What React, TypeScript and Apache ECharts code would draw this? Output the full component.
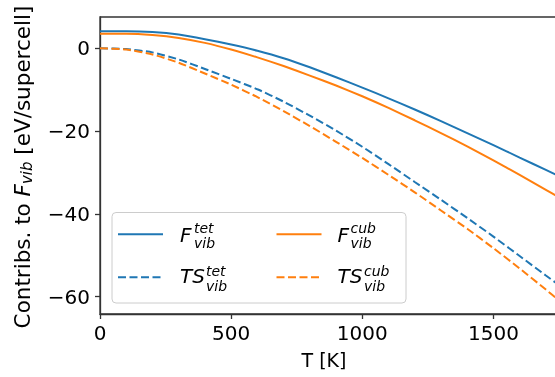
import React, { useEffect, useRef } from "react";
import * as echarts from "echarts";

// Temperature grid [K]
const temps = [0, 100, 200, 300, 400, 500, 600, 700, 800, 900, 1000, 1100, 1200, 1300, 1400, 1500, 1600, 1700, 1750];
// F_vib tetragonal (eV/supercell)
const fTet = [4.1, 4.1, 3.9, 3.3, 2.2, 0.9, -0.6, -2.4, -4.6, -7.0, -9.5, -12.1, -14.8, -17.6, -20.5, -23.4, -26.4, -29.4, -30.9];
// F_vib cubic
const fCub = [3.5, 3.5, 3.2, 2.5, 1.3, -0.3, -2.2, -4.3, -6.6, -9.0, -11.6, -14.4, -17.4, -20.5, -23.7, -27.1, -30.6, -34.2, -36.0];
// T*S_vib tetragonal
const tsTet = [0, -0.2, -1.0, -2.7, -5.0, -7.4, -9.9, -12.9, -16.3, -19.9, -23.8, -28.0, -32.3, -36.6, -41.0, -45.5, -50.2, -54.9, -57.2];
// T*S_vib cubic
const tsCub = [0, -0.3, -1.5, -3.5, -6.1, -8.8, -11.8, -15.2, -18.8, -22.6, -26.5, -30.6, -34.8, -39.2, -43.6, -48.3, -53.2, -58.3, -60.9];

const xTicks = [0, 500, 1000, 1500];
const yTicks = [-60, -40, -20, 0];

const BLUE = "#1f77b4";
const ORANGE = "#ff7f0e";
const FONT = "'DejaVu Sans', sans-serif";
const AXIS = "#333333";

const pairs = (ys: number[]) => temps.map((t, i) => [t, ys[i]]);
const fmt = (v: number) => (v < 0 ? "\u2212" + Math.abs(v) : String(v));

export default function App() {
  const ref = useRef<HTMLDivElement>(null);
  useEffect(() => {
    const chart = echarts.init(ref.current as HTMLDivElement, null, { renderer: "svg" });
    const axisLine = { show: true, onZero: false, lineStyle: { color: AXIS, width: 1.3 } };
    const tickStyle = { color: AXIS, width: 1.3 };
    const label = (vals: number[], margin: number) => ({
      customValues: vals,
      fontSize: 20,
      color: "#000",
      fontFamily: FONT,
      margin,
      formatter: fmt,
    });
    const mkLine = (data: number[], color: string, dashed: boolean, name: string, z: number) => ({
      type: "line",
      name,
      data: pairs(data),
      showSymbol: false,
      symbol: "none",
      smooth: 0.2,
      z,
      lineStyle: { color, width: 2, type: dashed ? [8, 3.5] : "solid" },
      itemStyle: { color },
    });
    const txt = (text: string, x: number, y: number, size: number) => ({
      type: "text",
      x,
      y,
      z: 100,
      style: {
        text,
        fontSize: size,
        fontFamily: FONT,
        fontStyle: "italic",
        fill: "#000",
        align: "left",
        verticalAlign: "middle",
      },
    });
    const legLine = (x1: number, x2: number, y: number, color: string, dashed: boolean) => ({
      type: "line",
      z: 100,
      shape: { x1, y1: y, x2, y2: y },
      style: { stroke: color, lineWidth: 2, lineDash: dashed ? [8, 3.5] : null },
    });
    chart.setOption({
      animation: false,
      grid: {
        left: 100,
        top: 17,
        right: 6,
        bottom: 63,
        show: true,
        borderColor: AXIS,
        borderWidth: 1.3,
        backgroundColor: "transparent",
      },
      xAxis: {
        type: "value",
        min: 0,
        max: 1750,
        axisLine,
        axisTick: { show: true, length: 5, customValues: xTicks, lineStyle: tickStyle },
        axisLabel: label(xTicks, 9),
        splitLine: { show: false },
      },
      yAxis: {
        type: "value",
        min: -64.2,
        max: 7.55,
        axisLine,
        axisTick: { show: true, length: 5, customValues: yTicks, lineStyle: tickStyle },
        axisLabel: label(yTicks, 10),
        splitLine: { show: false },
      },
      series: [
        mkLine(fTet, BLUE, false, "F_vib^tet", 2),
        mkLine(tsTet, BLUE, true, "TS_vib^tet", 3),
        mkLine(fCub, ORANGE, false, "F_vib^cub", 4),
        mkLine(tsCub, ORANGE, true, "TS_vib^cub", 5),
      ],
      graphic: [
        {
          type: "text",
          x: 22,
          y: 167,
          rotation: Math.PI / 2,
          style: {
            text: "{a|Contribs. to }{f|F}{s|vib}{a| [eV/supercell]}",
            align: "center",
            verticalAlign: "middle",
            fill: "#000",
            fontSize: 21.5,
            fontFamily: FONT,
            rich: {
              a: { fontSize: 21.5, fontFamily: FONT, fill: "#000" },
              f: { fontSize: 21.5, fontFamily: FONT, fontStyle: "italic", fill: "#000" },
              s: { fontSize: 15, fontFamily: FONT, fontStyle: "italic", fill: "#000", padding: [10, 0, 0, 0] },
            },
          },
        },
        {
          type: "text",
          x: 324,
          y: 360,
          style: {
            text: "T [K]",
            align: "center",
            verticalAlign: "middle",
            fill: "#000",
            fontSize: 19,
            fontFamily: FONT,
          },
        },
        {
          type: "rect",
          z: 99,
          shape: { x: 112, y: 212.5, width: 294, height: 90.5, r: 4 },
          style: { fill: "rgba(255,255,255,0.8)", stroke: "#cccccc", lineWidth: 1 },
        },
        legLine(118, 163, 234.3, BLUE, false),
        legLine(118, 163, 277.3, BLUE, true),
        legLine(276.5, 321.5, 234.3, ORANGE, false),
        legLine(276.5, 321.5, 277.3, ORANGE, true),
        txt("F", 180, 234.5, 20),
        txt("tet", 194, 228, 14),
        txt("vib", 194, 243, 14),
        txt("TS", 180, 275.8, 20),
        txt("tet", 206, 271.3, 14),
        txt("vib", 206, 286.3, 14),
        txt("F", 337.5, 234.5, 20),
        txt("cub", 350.5, 228, 14),
        txt("vib", 350.5, 243, 14),
        txt("TS", 337.5, 275.8, 20),
        txt("cub", 364, 271.3, 14),
        txt("vib", 364, 286.3, 14),
      ],
    });
    return () => chart.dispose();
  }, []);
  return (
    <div
      ref={ref}
      style={{ position: "fixed", left: 0, top: 0, width: 565, height: 377 }}
    />
  );
}
